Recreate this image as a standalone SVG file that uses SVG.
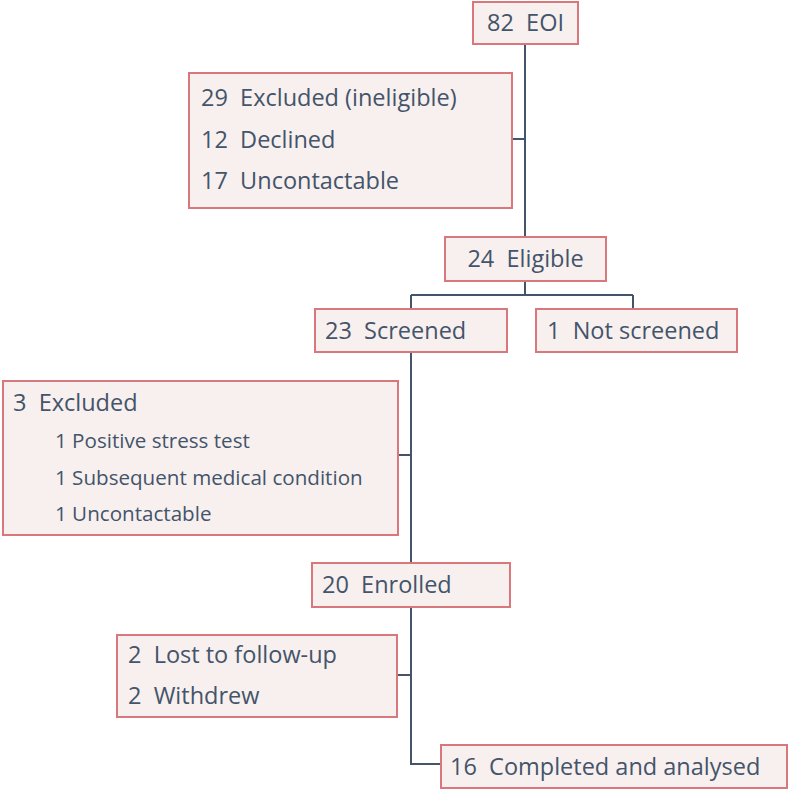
<svg xmlns="http://www.w3.org/2000/svg" width="789" height="790" viewBox="0 0 789 790">
<style>
.box{fill:#f7f0ef;stroke:#d8777c;stroke-width:2}
.t{font-family:"Open Sans","Liberation Sans",sans-serif;font-size:23.5px;fill:#44546a;white-space:pre}
.s{font-size:20.6px}
.c{text-anchor:middle}
.ln{fill:none;stroke:#44546a;stroke-width:2}
</style>
<rect width="789" height="790" fill="#ffffff"/>
<g id="connectors">
<path class="ln" d="M525 44V237"/>
<path class="ln" d="M512 139H525"/>
<path class="ln" d="M525 281V295M411 295H633M411 295V309M633 295V309"/>
<path class="ln" d="M411 352V563"/>
<path class="ln" d="M398 455H411"/>
<path class="ln" d="M411 607V764H441"/>
<path class="ln" d="M397 675H411"/>
</g>
<g id="eoi">
<rect class="box" x="473" y="2" width="105" height="42"/>
<text class="t c" x="525.5" y="31">82  EOI</text>
</g>
<g id="excluded1">
<rect class="box" x="189" y="73" width="323" height="135"/>
<text class="t" x="201" y="106">29  Excluded (ineligible)</text>
<text class="t" x="201" y="148">12  Declined</text>
<text class="t" x="201" y="189">17  Uncontactable</text>
</g>
<g id="eligible">
<rect class="box" x="445" y="237" width="161" height="44"/>
<text class="t c" x="525.5" y="267">24  Eligible</text>
</g>
<g id="screened">
<rect class="box" x="315" y="309" width="192" height="43"/>
<text class="t" x="325" y="339">23  Screened</text>
</g>
<g id="notscreened">
<rect class="box" x="536" y="309" width="201" height="43"/>
<text class="t" x="547" y="339">1  Not screened</text>
</g>
<g id="excluded2">
<rect class="box" x="3" y="381" width="395" height="154"/>
<text class="t" x="13" y="411">3  Excluded</text>
<text class="t s" x="55" y="448">1 Positive stress test</text>
<text class="t s" x="55" y="485">1 Subsequent medical condition</text>
<text class="t s" x="55" y="521">1 Uncontactable</text>
</g>
<g id="enrolled">
<rect class="box" x="312" y="563" width="198" height="44"/>
<text class="t" x="322" y="593">20  Enrolled</text>
</g>
<g id="lost">
<rect class="box" x="117" y="635" width="280" height="82"/>
<text class="t" x="128" y="663">2  Lost to follow-up</text>
<text class="t" x="128" y="704">2  Withdrew</text>
</g>
<g id="completed">
<rect class="box" x="441" y="745" width="346" height="43"/>
<text class="t" x="450" y="775">16  Completed and analysed</text>
</g>
</svg>
